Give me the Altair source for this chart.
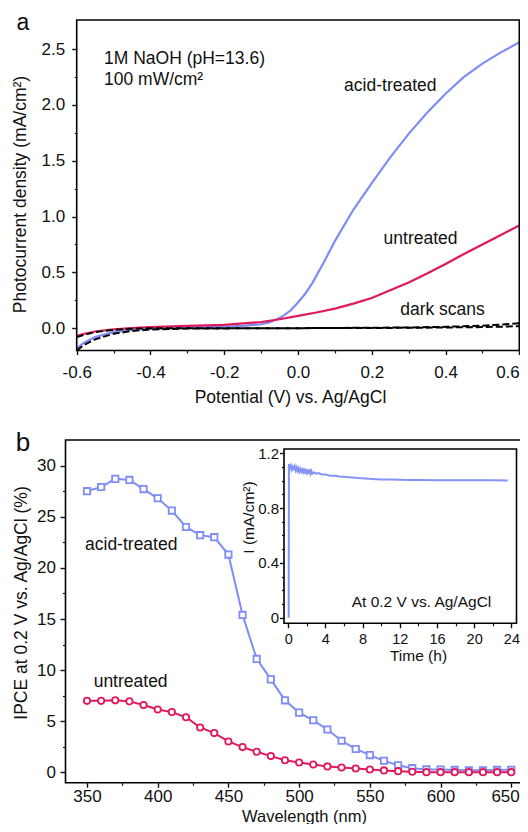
import altair as alt
import pandas as pd

FONT = "Liberation Sans"
BLUE = "#7e8cf6"
RED = "#e0195b"
INK = "#111111"

# ---------------- panel a : photocurrent vs potential ----------------
acid_v = [-0.6, -0.58, -0.55, -0.5, -0.45, -0.4, -0.3, -0.2, -0.15, -0.1, -0.08, -0.06, -0.04, -0.02,
          0.0, 0.02, 0.04, 0.07, 0.1, 0.15, 0.2, 0.25, 0.3, 0.35, 0.4, 0.45, 0.5, 0.55, 0.6]
acid_j = [-0.18, -0.13, -0.08, -0.035, -0.015, -0.005, 0.005, 0.012, 0.02, 0.035, 0.05, 0.075, 0.11, 0.16,
          0.23, 0.31, 0.41, 0.59, 0.78, 1.06, 1.30, 1.53, 1.74, 1.93, 2.10, 2.25, 2.37, 2.47, 2.56]
untr_v = [-0.6, -0.58, -0.55, -0.5, -0.45, -0.4, -0.3, -0.2, -0.1, -0.05, 0.0, 0.05, 0.1, 0.15, 0.2,
          0.25, 0.3, 0.35, 0.4, 0.45, 0.5, 0.55, 0.6]
untr_j = [-0.07, -0.05, -0.03, -0.01, 0.0, 0.01, 0.02, 0.03, 0.055, 0.08, 0.11, 0.14, 0.175, 0.22, 0.27,
          0.34, 0.41, 0.49, 0.575, 0.665, 0.75, 0.835, 0.92]
dark_v = [-0.6, -0.58, -0.55, -0.5, -0.45, -0.4, -0.3, 0.0, 0.3, 0.4, 0.5, 0.55, 0.6]
dark1_j = [-0.08, -0.06, -0.035, -0.015, -0.005, 0.0, 0.0, 0.0, 0.003, 0.006, 0.01, 0.013, 0.018]
dark2_j = [-0.2, -0.15, -0.1, -0.05, -0.025, -0.012, -0.003, 0.0, 0.006, 0.012, 0.022, 0.032, 0.045]

a_xdomain = [-0.6, 0.6]
a_ydomain = [-0.2, 2.76]
a_xticks = [-0.6, -0.4, -0.2, 0.0, 0.2, 0.4, 0.6]
a_xminor = [-0.5, -0.3, -0.1, 0.1, 0.3, 0.5]
a_yticks = [0.0, 0.5, 1.0, 1.5, 2.0, 2.5]
a_yminor = [0.25, 0.75, 1.25, 1.75, 2.25]

a_note_text = ["1M NaOH (pH=13.6)", "100 mW/cm²", "acid-treated", "untreated", "dark scans"]
a_note_x = [-0.526, -0.526, 0.125, 0.232, 0.277]
a_note_y = [2.41, 2.22, 2.17, 0.803, 0.165]

# ---------------- panel b : IPCE ----------------
wl = [350, 360, 370, 380, 390, 400, 410, 420, 430, 440, 450, 460, 470, 480, 490, 500, 510, 520,
      530, 540, 550, 560, 570, 580, 590, 600, 610, 620, 630, 640, 650]
ipce_acid = [27.5, 27.9, 28.7, 28.6, 27.7, 26.8, 25.6, 24.0, 23.2, 23.0, 21.3, 15.4, 11.1, 9.1, 7.05,
             5.85, 5.1, 4.2, 3.1, 2.3, 1.7, 1.14, 0.7, 0.42, 0.3, 0.28, 0.25, 0.22, 0.22, 0.25, 0.27]
ipce_untr = [7.0, 7.0, 7.05, 6.95, 6.6, 6.15, 5.9, 5.4, 4.4, 3.85, 3.03, 2.48, 2.02, 1.6, 1.2,
             0.98, 0.78, 0.59, 0.49, 0.39, 0.29, 0.2, 0.13, 0.07, 0.03, 0.03, 0.03, 0.03, 0.03, 0.03, 0.03]

b_xdomain = [334.8, 660.0]
b_ydomain = [-1.0, 32.5]
b_xticks = [350, 400, 450, 500, 550, 600, 650]
b_xminor = [375, 425, 475, 525, 575, 625]
b_yticks = [0, 5, 10, 15, 20, 25, 30]
b_yminor = [2.5, 7.5, 12.5, 17.5, 22.5, 27.5]

b_note_text = ["acid-treated", "untreated"]
b_note_x = [348.6, 354.7]
b_note_y = [22.24, 8.82]

# ---------------- inset : stability at 0.2 V ----------------
t_h = [0.05, 0.08, 0.2, 0.3, 0.4, 0.5, 0.6, 0.7, 0.8, 0.9, 1.0, 1.1, 1.2, 1.3, 1.4, 1.5, 1.6, 1.7, 1.8,
       1.9, 2.0, 2.1, 2.2, 2.3, 2.4, 2.5, 2.6, 2.8, 3.0, 3.3, 3.6, 4.0, 4.5, 5.0, 5.5, 6.0, 6.5, 7.0,
       7.5, 8.0, 9.0, 10.0, 11.0, 12.0, 13.0, 14.0, 16.0, 18.0, 20.0, 22.0, 23.6]
i_ma = [0.0, 1.12, 1.09, 1.11, 1.08, 1.10, 1.085, 1.105, 1.075, 1.095, 1.07, 1.09, 1.065, 1.085, 1.065,
        1.08, 1.06, 1.08, 1.06, 1.075, 1.055, 1.08, 1.05, 1.08, 1.05, 1.07, 1.05, 1.06, 1.05, 1.055,
        1.045, 1.045, 1.035, 1.035, 1.03, 1.028, 1.025, 1.022, 1.018, 1.016, 1.012, 1.008, 1.008,
        1.006, 1.005, 1.004, 1.003, 1.003, 1.002, 1.002, 1.0]
i_xdomain = [-0.45, 24.55]
i_ydomain = [-0.04, 1.23]
i_xticks = [0, 4, 8, 12, 16, 20, 24]
i_xminor = [2, 6, 10, 14, 18, 22]
i_yticks = [0, 0.4, 0.8, 1.2]
i_yminor = [0.1, 0.2, 0.3, 0.5, 0.6, 0.7, 0.9, 1.0, 1.1]
i_note_text = ["At 0.2 V vs. Ag/AgCl"]
i_note_x = [6.83]
i_note_y = [0.113]

# ---------------- layout (svg pixels; the svg starts at the page's 8px margin) ----------------
W, H = 512, 816
A_XR, A_YR = [68.7, 511.3], [342.5, 12.0]
B_XR, B_YR = [57.5, 517.4], [774.7, 432.0]
I_XR, I_YR = [276.0, 508.5], [615.3, 441.0]


def sc(domain, rng):
    return alt.Scale(domain=domain, range=rng, nice=False, zero=False)


sxa, sya = sc(a_xdomain, A_XR), sc(a_ydomain, A_YR)
sxb, syb = sc(b_xdomain, B_XR), sc(b_ydomain, B_YR)
sxi, syi = sc(i_xdomain, I_XR), sc(i_ydomain, I_YR)


def frame(xd, yd, sx, sy):
    df = pd.DataFrame({"x1": [xd[0]], "x2": [xd[1]], "y1": [yd[0]], "y2": [yd[1]]})
    return alt.Chart(df).mark_rect(filled=False, color="black", strokeWidth=1.6).encode(
        x=alt.X("x1:Q", scale=sx, axis=None), x2="x2:Q",
        y=alt.Y("y1:Q", scale=sy, axis=None), y2="y2:Q",
    )


def ghost(xd, yd, sx, sy, xaxis, yaxis):
    df = pd.DataFrame({"x": [xd[0], xd[1]], "y": [yd[0], yd[1]]})
    return alt.Chart(df).mark_point(opacity=0).encode(
        x=alt.X("x:Q", scale=sx, axis=xaxis), y=alt.Y("y:Q", scale=sy, axis=yaxis)
    )


def minor_x(vals, offset, size=2.5):
    return alt.Axis(orient="bottom", offset=offset, values=vals, labels=False, tickSize=size,
                    tickWidth=1.2, title=None)


def minor_y(vals, offset, size=2.5):
    return alt.Axis(orient="left", offset=offset, values=vals, labels=False, tickSize=size,
                    tickWidth=1.2, title=None)


def notes(xs, ys, texts, sx, sy, size):
    df = pd.DataFrame({"x": xs, "y": ys, "t": texts})
    return alt.Chart(df).mark_text(align="left", baseline="middle", fontSize=size, font=FONT, color=INK).encode(
        x=alt.X("x:Q", scale=sx, axis=None), y=alt.Y("y:Q", scale=sy, axis=None), text="t:N"
    )


def letter(ch, px, py, size):
    return alt.Chart(pd.DataFrame({"t": [ch]})).mark_text(
        align="center", baseline="alphabetic", fontSize=size, font=FONT, color=INK
    ).encode(x=alt.value(px), y=alt.value(py), text="t:N")


# ================= panel a =================
hyphen = "datum.value < 0 ? '-' + format(-datum.value, '.1f') : format(datum.value, '.1f')"
ax_a_x = alt.Axis(orient="bottom", offset=A_YR[0] - H, values=a_xticks, labelExpr=hyphen, labelFlush=False,
                  tickSize=4, labelPadding=10,
                  labelAlign={"condition": {"test": "datum.value > 0.55", "value": "right"}, "value": "center"},
                  title="Potential (V) vs. Ag/AgCl", titleX=282, titleY=51.5, titleBaseline="alphabetic")
ax_a_y = alt.Axis(orient="left", offset=-A_XR[0], values=a_yticks, format=".1f", tickSize=5, labelPadding=7,
                  title="Photocurrent density (mA/cm²)", titleX=-50.9, titleY=186, titleBaseline="alphabetic")

dfa_light = pd.DataFrame({
    "v": acid_v + untr_v,
    "j": acid_j + untr_j,
    "s": ["acid"] * len(acid_v) + ["untr"] * len(untr_v),
})
dfa_dark = pd.DataFrame({
    "v": dark_v + dark_v,
    "j": dark1_j + dark2_j,
    "s": ["d1"] * len(dark_v) + ["d2"] * len(dark_v),
})
a_light = alt.Chart(dfa_light).mark_line(strokeWidth=2.2).encode(
    x=alt.X("v:Q", scale=sxa, axis=ax_a_x),
    y=alt.Y("j:Q", scale=sya, axis=ax_a_y),
    color=alt.Color("s:N", scale=alt.Scale(domain=["acid", "untr"], range=[BLUE, RED]), legend=None),
)
a_dark = alt.Chart(dfa_dark).mark_line(strokeWidth=2, strokeDash=[7, 3], color="black").encode(
    x=alt.X("v:Q", scale=sxa, axis=None),
    y=alt.Y("j:Q", scale=sya, axis=None),
    detail="s:N",
)
a_minor = ghost(a_xdomain, a_ydomain, sxa, sya, minor_x(a_xminor, A_YR[0] - H), minor_y(a_yminor, -A_XR[0]))
a_frame = frame(a_xdomain, a_ydomain, sxa, sya)
a_notes = notes(a_note_x, a_note_y, a_note_text, sxa, sya, 17.5)
a_letter = letter("a", 15, 21.5, 23)

# ================= panel b =================
col_b = alt.Scale(domain=["acid", "untr"], range=[BLUE, RED])
ax_b_x = alt.Axis(orient="bottom", offset=B_YR[0] - H, values=b_xticks, tickSize=4.5,
                  labelPadding=1.5, labelFlush=15, labelFlushOffset=8,
                  title="Wavelength (nm)", titleFontSize=16.5, titleX=296, titleY=38.3,
                  titleBaseline="alphabetic")
ax_b_y = alt.Axis(orient="left", offset=-B_XR[0], values=b_yticks, tickSize=5.5, labelPadding=4.5,
                  title="IPCE at 0.2 V vs. Ag/AgCl (%)", titleX=-39, titleY=594.5, titleBaseline="alphabetic")

dfb = pd.DataFrame({
    "w": wl + wl,
    "q": ipce_acid + ipce_untr,
    "s": ["acid"] * len(wl) + ["untr"] * len(wl),
})
b_line = alt.Chart(dfb).mark_line(strokeWidth=2).encode(
    x=alt.X("w:Q", scale=sxb, axis=ax_b_x),
    y=alt.Y("q:Q", scale=syb, axis=ax_b_y),
    color=alt.Color("s:N", scale=col_b, legend=None),
)
b_pts = alt.Chart(dfb).mark_point(filled=True, fill="white", strokeWidth=1.8, size=40, opacity=1).encode(
    x=alt.X("w:Q", scale=sxb, axis=None),
    y=alt.Y("q:Q", scale=syb, axis=None),
    stroke=alt.Stroke("s:N", scale=col_b, legend=None),
    shape=alt.Shape("s:N", scale=alt.Scale(domain=["acid", "untr"], range=["square", "circle"]), legend=None),
)
b_minor = ghost(b_xdomain, b_ydomain, sxb, syb, minor_x(b_xminor, B_YR[0] - H), minor_y(b_yminor, -B_XR[0], 3))
b_frame = frame(b_xdomain, b_ydomain, sxb, syb)
b_notes = notes(b_note_x, b_note_y, b_note_text, sxb, syb, 17.5)
b_letter = letter("b", 15, 442.5, 26)

# ================= inset =================
ax_i_x = alt.Axis(orient="bottom", offset=I_YR[0] - H, values=i_xticks, labelFlush=False, tickSize=4.5,
                  labelPadding=5, labelFontSize=14.5, title="Time (h)", titleFontSize=15.5,
                  titleX=410, titleY=37, titleBaseline="alphabetic")
ax_i_y = alt.Axis(orient="left", offset=-I_XR[0], values=i_yticks,
                  labelExpr="datum.value == 0 ? '0' : format(datum.value, '.1f')",
                  tickSize=4.5, labelPadding=1, labelFontSize=15,
                  title="I (mA/cm²)", titleFontSize=15.5, titleX=-30.8, titleY=509, titleBaseline="alphabetic")

dfi = pd.DataFrame({"t": t_h, "i": i_ma})
i_line = alt.Chart(dfi).mark_line(strokeWidth=2, color="#8593f5").encode(
    x=alt.X("t:Q", scale=sxi, axis=ax_i_x),
    y=alt.Y("i:Q", scale=syi, axis=ax_i_y),
)
i_minor = ghost(i_xdomain, i_ydomain, sxi, syi, minor_x(i_xminor, I_YR[0] - H), minor_y(i_yminor, -I_XR[0]))
i_frame = frame(i_xdomain, i_ydomain, sxi, syi)
i_notes = notes(i_note_x, i_note_y, i_note_text, sxi, syi, 15.5)

chart = alt.layer(
    a_light, a_dark, a_minor, a_frame, a_notes, a_letter,
    b_line, b_pts, b_minor, b_frame, b_notes, b_letter,
    i_line, i_minor, i_frame, i_notes,
).resolve_scale(x="independent", y="independent").resolve_axis(
    x="independent", y="independent"
).properties(
    width=W, height=H,
    autosize=alt.AutoSizeParams(type="none"),
    padding={"left": 0, "top": 0, "right": 0, "bottom": 0},
    background="white",
).configure_view(stroke="transparent").configure_axis(
    labelFont=FONT, titleFont=FONT, labelFontSize=17, titleFontSize=17.5,
    labelColor=INK, titleColor=INK, tickColor=INK, tickWidth=1.4,
    domain=False, grid=False, titleFontWeight="normal",
)

chart.save("out.html", embed_options={"renderer": "svg", "actions": False})
